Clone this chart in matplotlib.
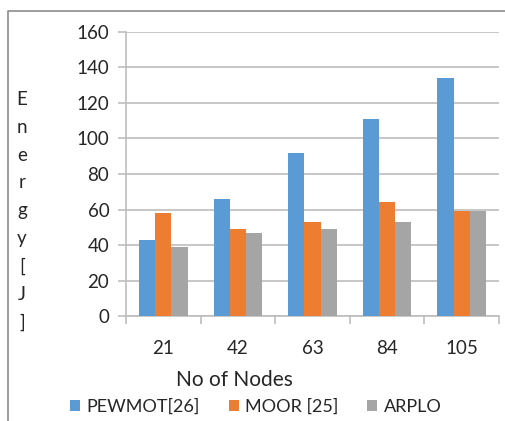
import numpy as np
import matplotlib.pyplot as plt
from matplotlib.lines import Line2D

# 数据
nodes = ['21', '42', '63', '84', '105']
pewmot = [43, 66, 92, 111, 134]
moor = [58, 49, 53, 64, 59]
arplo = [39, 47, 49, 53, 59]
labels = ['PEWMOT[26]', 'MOOR [25]', 'ARPLO']
colors = ['#5B9BD5', '#ED7D31', '#A5A5A5']

plt.rcParams['font.family'] = ['Lato', 'DejaVu Sans']
text_color = '#262626'
grid_color = '#BDBDBD'

fig = plt.figure(figsize=(5.06, 4.21), dpi=100)
ax = fig.add_axes([0.249, 0.2494, 0.737, 0.6746])

x = np.arange(len(nodes))
w = 0.217
for i, (vals, lab, c) in enumerate(zip([pewmot, moor, arplo], labels, colors)):
    ax.bar(x + (i - 1) * w, vals, width=w, color=c, label=lab, zorder=3)

ax.set_xlim(-0.5, len(nodes) - 0.5)
ax.set_ylim(0, 160)
ax.set_yticks(range(0, 161, 20))
ax.set_xticks(x)
ax.set_xticklabels(nodes)
ax.set_xticks(np.arange(-0.5, len(nodes), 1), minor=True)

# 网格线和坐标轴
ax.grid(axis='y', color=grid_color, linewidth=1.2, zorder=0)
for s in ['top', 'right']:
    ax.spines[s].set_visible(False)
for s in ['left', 'bottom']:
    ax.spines[s].set_color(grid_color)
    ax.spines[s].set_linewidth(1.2)
ax.tick_params(axis='y', length=6, width=1.2, color=grid_color,
               labelsize=13.5, labelcolor=text_color, pad=6)
ax.tick_params(axis='x', which='major', length=0, labelsize=13.5,
               labelcolor=text_color, pad=17)
ax.tick_params(axis='x', which='minor', length=6, width=1.2, color=grid_color)

# 纵轴标题(竖排字母)
fig.text(22 / 506, 1 - 211 / 421, '\n'.join('Energy[J]'), ha='center', va='center',
         fontsize=13.5, color=text_color, linespacing=1.77)

fig.text(234 / 506, 1 - 380 / 421, 'No of Nodes', ha='center', va='center',
         fontsize=15, color=text_color)

fig.legend(loc='center', bbox_to_anchor=(256 / 506, 1 - 407 / 421), ncol=3,
           frameon=False, fontsize=13, handlelength=0.55, handleheight=0.55,
           handletextpad=0.35, columnspacing=1.6, labelcolor=text_color)

# 外框线
fig.add_artist(Line2D([8 / 506, 8 / 506, 1], [0, 1 - 11 / 421, 1 - 11 / 421],
                      transform=fig.transFigure, color='#8C8C8C', linewidth=1.2))

fig.savefig('out.png', dpi=100)
